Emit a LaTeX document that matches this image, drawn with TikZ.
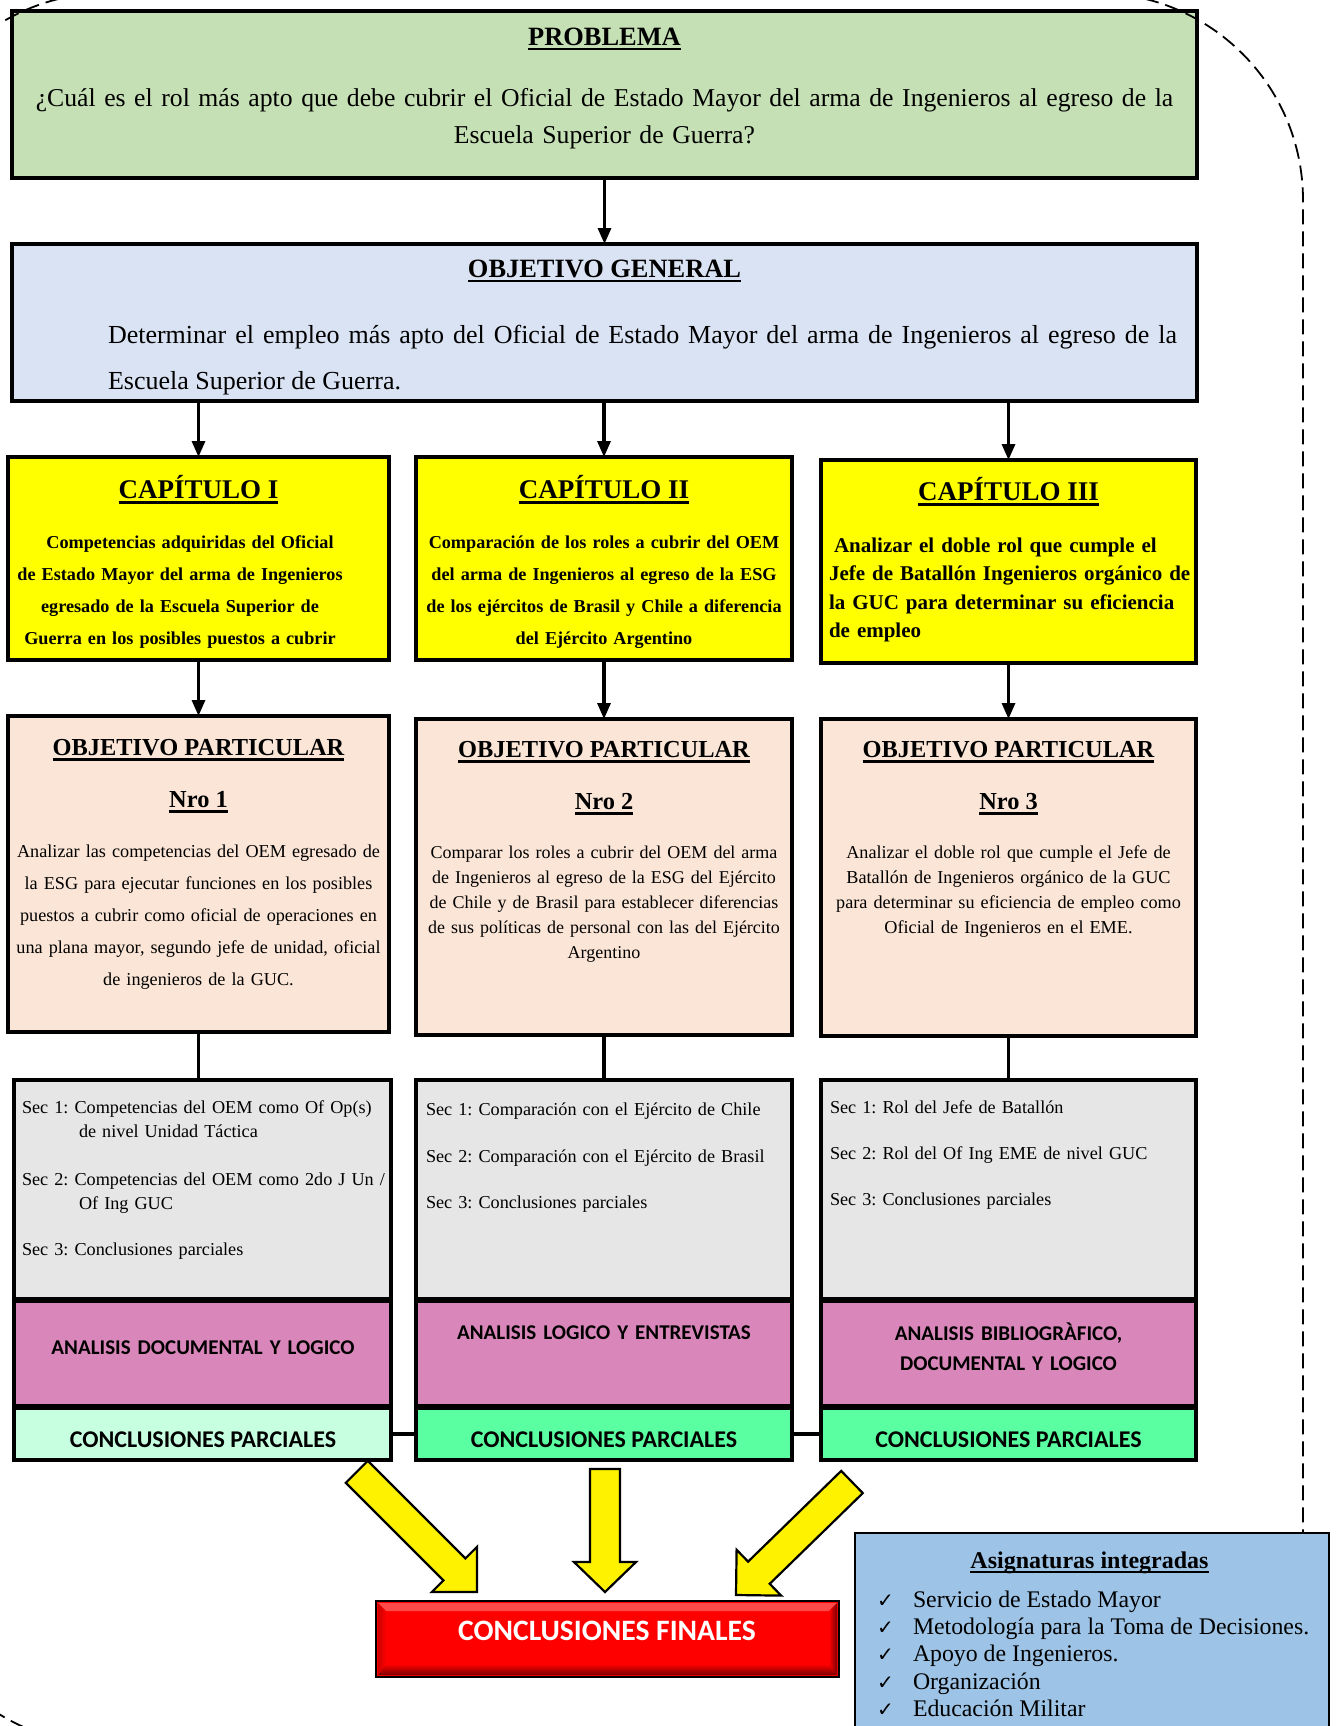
\documentclass[tikz,border=0pt]{standalone}
\usepackage{fontspec}
\setmainfont{Liberation Serif}
\newfontfamily\calib{Carlito}
\newfontfamily\djv{DejaVu Sans}
\usetikzlibrary{arrows.meta,fit}
\frenchspacing
\definecolor{cprob}{HTML}{C5E0B4}
\definecolor{cobj}{HTML}{DAE3F3}
\definecolor{ccap}{HTML}{FFFF00}
\definecolor{cop}{HTML}{FBE5D6}
\definecolor{csec}{HTML}{E6E6E6}
\definecolor{cpink}{HTML}{D986BA}
\definecolor{cgA}{HTML}{C7FFE1}
\definecolor{cgB}{HTML}{59FFA0}
\definecolor{casig}{HTML}{9DC3E6}
\definecolor{credD}{HTML}{7A0000}
\definecolor{credL}{HTML}{FF4A4A}
\newsavebox\ulbox
\newcommand\ulb[1]{\sbox\ulbox{#1}\rlap{\rule[-2.6pt]{\wd\ulbox}{1.2pt}}\usebox\ulbox}
\newcommand\ulc[1]{\sbox\ulbox{#1}\rlap{\rule[-2.4pt]{\wd\ulbox}{0.9pt}}\usebox\ulbox}
\tikzset{
  bx/.style={draw=black, line width=1.8pt, inner sep=0pt, outer sep=0pt},
  txt/.style={inner sep=0pt, outer sep=0pt},
  conn/.style={line width=1.6pt, -{Triangle[length=8pt,width=6.5pt]}},
  lnk/.style={line width=1.7pt},
  yarrow/.style={draw=black, line width=1.1pt, fill=yellow, line join=miter},
  ttl/.style={txt, anchor=base, font=\fontsize{13.2}{16}\selectfont\bfseries},
  capttl/.style={txt, anchor=base, font=\fontsize{13.5}{16}\selectfont\bfseries},
  capsm/.style={txt, anchor=base, text width=200pt, align=center, font=\fontsize{9.1}{16}\selectfont\bfseries},
  opttl/.style={txt, anchor=base, font=\fontsize{12.2}{14}\selectfont\bfseries},
  secl/.style={txt, anchor=base west, text width=200pt, align=left, font=\fontsize{9.1}{12.2}\selectfont},
  pinkt/.style={txt, anchor=base, text width=185pt, align=center, font=\calib\bfseries\fontsize{10.5}{15}\selectfont},
  greent/.style={txt, anchor=base, font=\calib\bfseries\fontsize{12}{14}\selectfont},
  asigt/.style={txt, anchor=base west, font=\fontsize{11.9}{14}\selectfont},
  chk/.style={txt, anchor=base west, font=\djv\fontsize{10}{12}\selectfont},
  dashln/.style={line width=0.9pt, dash pattern=on 7.5pt off 3.5pt},
}
\begin{document}
\begin{tikzpicture}[x=0.5pt,y=-0.5pt]
\useasboundingbox (0,0) rectangle (1336,1726);
\clip (0,0) rectangle (1336,1726);

% ---------- PROBLEMA ----------
\node[bx, line width=2pt, fill=cprob, fit={(12,11) (1197,178)}] (prob) {};
\node[ttl] (probT) at (604.5,45) {\ulb{PROBLEMA}};
\node[txt, anchor=base, text width=620pt, align=center, font=\fontsize{12.85}{18.5}\selectfont] (probQ) at (604.5,106)
  {¿Cuál es el rol más apto que debe cubrir el Oficial de Estado Mayor del arma de Ingenieros al egreso de la\\Escuela Superior de Guerra?};

% ---------- OBJETIVO GENERAL ----------
\node[bx, fill=cobj, fit={(12,244) (1197,401)}] (obj) {};
\node[ttl] (objT) at (604.5,277) {\ulb{OBJETIVO GENERAL}};
\node[txt, anchor=base west, font=\fontsize{13}{23}\selectfont] (objL1) at (108,343)
  {\hbox to 534.5pt{Determinar el empleo más apto del Oficial de Estado Mayor del arma de Ingenieros al egreso de la}};
\node[txt, anchor=base west, font=\fontsize{13}{23}\selectfont] (objL2) at (108,389) {Escuela Superior de Guerra.};

% ---------- CAPITULOS ----------
\node[bx, fill=ccap, fit={(8,457) (389,660)}] (cap1) {};
\node[bx, fill=ccap, fit={(416,457) (792,660)}] (cap2) {};
\node[bx, fill=ccap, fit={(821,460) (1196,663)}] (cap3) {};
\node[capttl] (cap1T) at (198.5,498.5) {\ulb{CAPÍTULO I}};
\node[capttl] (cap2T) at (604,498.5) {\ulb{CAPÍTULO II}};
\node[capttl] (cap3T) at (1008.5,500.5) {\ulb{CAPÍTULO III}};
\node[capsm] (cap1X) at (180,548)
  {\hspace*{10pt}Competencias adquiridas del Oficial\\de Estado Mayor del arma de Ingenieros\\egresado de la Escuela Superior de\\Guerra en los posibles puestos a cubrir};
\node[capsm] (cap2X) at (604,548)
  {Comparación de los roles a cubrir del OEM\\del arma de Ingenieros al egreso de la ESG\\de los ejércitos de Brasil y Chile a diferencia\\del Ejército Argentino};
\node[txt, anchor=base west, text width=200pt, align=left, font=\fontsize{10.5}{14.25}\selectfont\bfseries] (cap3X) at (829,552)
  {\hspace*{2.5pt}Analizar el doble rol que cumple el\\Jefe de Batallón Ingenieros orgánico de\\la GUC para determinar su eficiencia\\de empleo};

% ---------- OBJETIVOS PARTICULARES ----------
\node[bx, fill=cop, fit={(8,716) (389,1032)}] (op1) {};
\node[bx, fill=cop, fit={(416,719) (792,1035)}] (op2) {};
\node[bx, fill=cop, fit={(821,719) (1196,1036)}] (op3) {};
\node[opttl] (op1T) at (198.5,755.5) {\ulb{OBJETIVO PARTICULAR}};
\node[opttl] (op2T) at (604,757.5) {\ulb{OBJETIVO PARTICULAR}};
\node[opttl] (op3T) at (1008.5,757.5) {\ulb{OBJETIVO PARTICULAR}};
\node[opttl] (op1N) at (198.5,807.5) {\ulb{Nro 1}};
\node[opttl] (op2N) at (604,809.5) {\ulb{Nro 2}};
\node[opttl] (op3N) at (1008.5,809.5) {\ulb{Nro 3}};
\node[txt, anchor=base, text width=200pt, align=center, font=\fontsize{9.1}{16}\selectfont] (op1X) at (198.5,857)
  {Analizar las competencias del OEM egresado de\\la ESG para ejecutar funciones en los posibles\\puestos a cubrir como oficial de operaciones en\\una plana mayor, segundo jefe de unidad, oficial\\de ingenieros de la GUC.};
\node[txt, anchor=base, text width=200pt, align=center, font=\fontsize{9.0}{12.5}\selectfont] (op2X) at (604,858)
  {Comparar los roles a cubrir del OEM del arma\\de Ingenieros al egreso de la ESG del Ejército\\de Chile y de Brasil para establecer diferencias\\de sus políticas de personal con las del Ejército\\Argentino};
\node[txt, anchor=base, text width=200pt, align=center, font=\fontsize{9.1}{12.5}\selectfont] (op3X) at (1008.5,858)
  {Analizar el doble rol que cumple el Jefe de\\Batallón de Ingenieros orgánico de la GUC\\para determinar su eficiencia de empleo como\\Oficial de Ingenieros en el EME.};

% ---------- SECCIONES ----------
\node[bx, line width=1.6pt, fill=csec, fit={(14,1080) (391,1299)}] (sec1) {};
\node[bx, line width=1.6pt, fill=csec, fit={(416,1080) (792,1299)}] (sec2) {};
\node[bx, line width=1.6pt, fill=csec, fit={(821,1080) (1196,1299)}] (sec3) {};
\node[secl] (s1a) at (22,1113) {Sec 1: Competencias del OEM como Of Op(s)\\\hspace*{28.5pt}de nivel Unidad Táctica};
\node[secl] (s1b) at (22,1185) {Sec 2: Competencias del OEM como 2do J Un /\\\hspace*{28.5pt}Of Ing GUC};
\node[secl] (s1c) at (22,1255) {Sec 3: Conclusiones parciales};
\node[secl] (s2a) at (426,1115) {Sec 1: Comparación con el Ejército de Chile};
\node[secl] (s2b) at (426,1162) {Sec 2: Comparación con el Ejército de Brasil};
\node[secl] (s2c) at (426,1208) {Sec 3: Conclusiones parciales};
\node[secl] (s3a) at (830,1113) {Sec 1: Rol del Jefe de Batallón};
\node[secl] (s3b) at (830,1159) {Sec 2: Rol del Of Ing EME de nivel GUC};
\node[secl] (s3c) at (830,1205) {Sec 3: Conclusiones parciales};

% ---------- ANALISIS ----------
\node[bx, line width=2pt, fill=cpink, fit={(14,1301) (391,1406)}] (pk1) {};
\node[bx, line width=2pt, fill=cpink, fit={(416,1301) (792,1406)}] (pk2) {};
\node[bx, line width=2pt, fill=cpink, fit={(821,1301) (1196,1406)}] (pk3) {};
\node[pinkt] (pk1T) at (203,1354) {ANALISIS DOCUMENTAL Y LOGICO};
\node[pinkt] (pk2T) at (604,1339) {ANALISIS LOGICO Y ENTREVISTAS};
\node[pinkt] (pk3T) at (1008.5,1340) {ANALISIS BIBLIOGRÀFICO,\\DOCUMENTAL Y LOGICO};

% ---------- CONCLUSIONES PARCIALES ----------
\node[bx, line width=2pt, fill=cgA, fit={(14,1408) (391,1460)}] (g1) {};
\node[bx, line width=2pt, fill=cgB, fit={(416,1408) (792,1460)}] (g2) {};
\node[bx, line width=2pt, fill=cgB, fit={(821,1408) (1196,1460)}] (g3) {};
\node[greent] (g1T) at (203,1447) {CONCLUSIONES PARCIALES};
\node[greent] (g2T) at (604,1447) {CONCLUSIONES PARCIALES};
\node[greent] (g3T) at (1008.5,1447) {CONCLUSIONES PARCIALES};

% ---------- connectors ----------
\draw[conn] (prob.south) -- (obj.north);
\draw[conn] (obj.south -| cap1.north) -- (cap1.north);
\draw[conn] (obj.south -| cap2.north) -- (cap2.north);
\draw[conn] (obj.south -| cap3.north) -- (cap3.north);
\draw[conn] (cap1.south) -- (op1.north);
\draw[conn] (cap2.south) -- (op2.north);
\draw[conn] (cap3.south) -- (op3.north);
\draw[lnk] (op1.south) -- (op1.south |- sec1.north);
\draw[lnk] (op2.south) -- (op2.south |- sec2.north);
\draw[lnk] (op3.south) -- (op3.south |- sec3.north);
\draw[lnk] (g1.east) -- (g2.west);
\draw[lnk] (g2.east) -- (g3.west);

% ---------- dashed outline ----------
\draw[dashln, rounded corners=103.5pt] (-99,-7) rectangle (1303,1745);

% ---------- yellow block arrows ----------
\draw[yarrow] (367.8,1460.8) -- (465.4,1558.4) -- (477,1546.8) -- (477,1592) -- (431.8,1592) -- (443.4,1580.4) -- (345.8,1482.8) -- cycle;
\draw[yarrow] (590,1469) -- (620,1469) -- (620,1562) -- (636,1562) -- (605,1592) -- (574,1562) -- (590,1562) -- cycle;
\draw[yarrow] (862.8,1493.1) -- (769.7,1583.8) -- (781.2,1595.6) -- (736,1595) -- (736.6,1549.8) -- (748.1,1561.6) -- (841.2,1470.9) -- cycle;

% ---------- CONCLUSIONES FINALES ----------
\node[draw=black, line width=1.2pt, fill=red, inner sep=0pt, outer sep=0pt, fit={(376,1601) (839,1677)}] (fin) {};
\fill[credL] (378,1603) -- (837,1603) -- (829,1611) -- (386,1611) -- cycle;
\shade[top color=red, bottom color=credD] (386,1664) -- (829,1664) -- (837,1675) -- (378,1675) -- cycle;
\shade[left color=red, right color=credD] (829,1611) -- (837,1603) -- (837,1675) -- (829,1664) -- cycle;
\shade[left color=red!80!black, right color=red] (378,1603) -- (386,1611) -- (386,1664) -- (378,1675) -- cycle;
\node[txt, anchor=base, text=white, font=\calib\bfseries\fontsize{14.8}{16}\selectfont] (finT) at (607,1640) {CONCLUSIONES FINALES};

% ---------- ASIGNATURAS ----------
\node[draw=black, line width=1pt, fill=casig, inner sep=0pt, outer sep=0pt, fit={(855,1533) (1329,1745)}] (asig) {};
\node[txt, anchor=base, font=\fontsize{12}{14}\selectfont\bfseries] (asigT) at (1089.5,1568) {\ulc{Asignaturas integradas}};
\node[chk] (c1) at (877,1607) {✓};
\node[chk] (c2) at (877,1634.5) {✓};
\node[chk] (c3) at (877,1661.5) {✓};
\node[chk] (c4) at (877,1689) {✓};
\node[chk] (c5) at (877,1716) {✓};
\node[asigt] (a1) at (913,1607) {Servicio de Estado Mayor};
\node[asigt] (a2) at (913,1634.5) {Metodología para la Toma de Decisiones.};
\node[asigt] (a3) at (913,1661.5) {Apoyo de Ingenieros.};
\node[asigt] (a4) at (913,1689) {Organización};
\node[asigt] (a5) at (913,1716) {Educación Militar};
\end{tikzpicture}
\end{document}
